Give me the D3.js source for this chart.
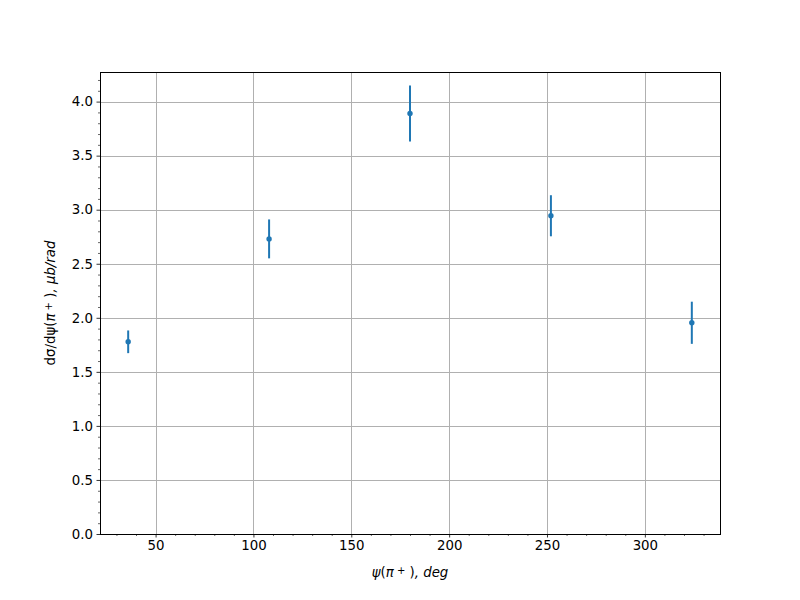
<!DOCTYPE html>
<html>
<head>
<meta charset="utf-8">
<script src="https://cdn.jsdelivr.net/npm/d3@7"></script>
<style>
body { margin: 0; background: #fff; }
svg { display: block; }
text { font-family: "DejaVu Sans", sans-serif; }
</style>
</head>
<body>
<svg id="chart" width="800" height="600"></svg>
<script>
// Data
const psi = [36, 108, 180, 252, 324];
const dsigma = [1.778, 2.73, 3.89, 2.944, 1.954];
const errors = [0.105, 0.18, 0.26, 0.19, 0.195];
const xTicks = [50, 100, 150, 200, 250, 300];
const yTicks = [0, 0.5, 1.0, 1.5, 2.0, 2.5, 3.0, 3.5, 4.0];

const W = 800, H = 600;
const m = { left: 100, right: 720, top: 72, bottom: 534 };
const svg = d3.select("#chart");

const xMin = d3.min(psi), xMax = d3.max(psi), xPad = (xMax - xMin) * 0.05;
const x = d3.scaleLinear().domain([xMin - xPad, xMax + xPad]).range([m.left, m.right]);
const hi = d3.max(dsigma.map((v, i) => v + errors[i]));
const lo = d3.min(dsigma.map((v, i) => v - errors[i]));
const y = d3.scaleLinear().domain([0, hi + (hi - lo) * 0.05]).range([m.bottom, m.top]);

const color = "#1f77b4";
const px = v => Math.round(v) + 0.5;

// Grid
const grid = svg.append("g").attr("shape-rendering", "crispEdges");
grid.selectAll(".gx").data(xTicks).enter().append("line")
  .attr("x1", d => px(x(d))).attr("x2", d => px(x(d)))
  .attr("y1", m.top).attr("y2", m.bottom)
  .attr("stroke", "#b0b0b0").attr("stroke-width", 1);
grid.selectAll(".gy").data(yTicks).enter().append("line")
  .attr("y1", d => px(y(d))).attr("y2", d => px(y(d)))
  .attr("x1", m.left).attr("x2", m.right)
  .attr("stroke", "#b0b0b0").attr("stroke-width", 1);

// Minor ticks
const xMinor = d3.range(30, 340, 10).filter(v => v % 50 !== 0 && v >= x.domain()[0] && v <= x.domain()[1]);
const yMinor = d3.range(0, 43).map(v => v / 10).filter(v => Math.round(v * 10) % 5 !== 0 && v <= y.domain()[1]);

const xAxis = d3.axisBottom(x).tickValues(xTicks).tickFormat(d3.format("d")).tickSizeOuter(0).tickSize(3.5).tickPadding(3.5);
const yAxis = d3.axisLeft(y).tickValues(yTicks).tickFormat(d3.format(".1f")).tickSizeOuter(0).tickSize(3.5).tickPadding(3.5);

const gx = svg.append("g").attr("transform", `translate(0,${m.bottom})`).call(xAxis);
const gy = svg.append("g").attr("transform", `translate(${m.left},0)`).call(yAxis);
[gx, gy].forEach(g => {
  g.select(".domain").remove();
  g.selectAll(".tick line").attr("stroke", "#000").attr("stroke-width", 0.8);
  g.selectAll(".tick text").attr("fill", "#000").style("font-size", "13.33px").style("font-family", "DejaVu Sans, sans-serif");
});

const gxm = svg.append("g").attr("transform", `translate(0,${m.bottom})`)
  .call(d3.axisBottom(x).tickValues(xMinor).tickFormat("").tickSizeOuter(0).tickSize(2));
const gym = svg.append("g").attr("transform", `translate(${m.left},0)`)
  .call(d3.axisLeft(y).tickValues(yMinor).tickFormat("").tickSizeOuter(0).tickSize(2));
[gxm, gym].forEach(g => {
  g.select(".domain").remove();
  g.selectAll(".tick line").attr("stroke", "#000").attr("stroke-width", 0.6);
});

// Error bars
svg.append("g").selectAll("line").data(psi).enter().append("line")
  .attr("x1", d => x(d)).attr("x2", d => x(d))
  .attr("y1", (d, i) => y(dsigma[i] - errors[i]))
  .attr("y2", (d, i) => y(dsigma[i] + errors[i]))
  .attr("stroke", color).attr("stroke-width", 2);

// Points
svg.append("g").selectAll("circle").data(psi).enter().append("circle")
  .attr("cx", d => x(d)).attr("cy", (d, i) => y(dsigma[i]))
  .attr("r", 2.7).attr("fill", color);

// Frame
svg.append("rect").attr("x", m.left).attr("y", m.top)
  .attr("width", m.right - m.left).attr("height", m.bottom - m.top)
  .attr("fill", "none").attr("stroke", "#000").attr("stroke-width", 1)
  .attr("shape-rendering", "crispEdges");

// Labels
const xl = svg.append("text").attr("x", (m.left + m.right) / 2).attr("y", 577)
  .attr("text-anchor", "middle").style("font-size", "13.33px");
xl.append("tspan").attr("font-style", "italic").text("ψ");
xl.append("tspan").text("(");
xl.append("tspan").attr("font-style", "italic").text("π");
xl.append("tspan").attr("baseline-shift", "35%").style("font-size", "10px").text(" +");
xl.append("tspan").text(" )");
xl.append("tspan").attr("font-style", "italic").text(", deg");

const yl = svg.append("text")
  .attr("transform", `translate(55,${(m.top + m.bottom) / 2}) rotate(-90)`)
  .attr("text-anchor", "middle").style("font-size", "13.33px");
yl.append("tspan").text("dσ/dψ(");
yl.append("tspan").attr("font-style", "italic").text("π");
yl.append("tspan").attr("baseline-shift", "35%").style("font-size", "10px").text(" +");
yl.append("tspan").text(" )");
yl.append("tspan").attr("font-style", "italic").text(", μb/rad");
</script>
</body>
</html>
